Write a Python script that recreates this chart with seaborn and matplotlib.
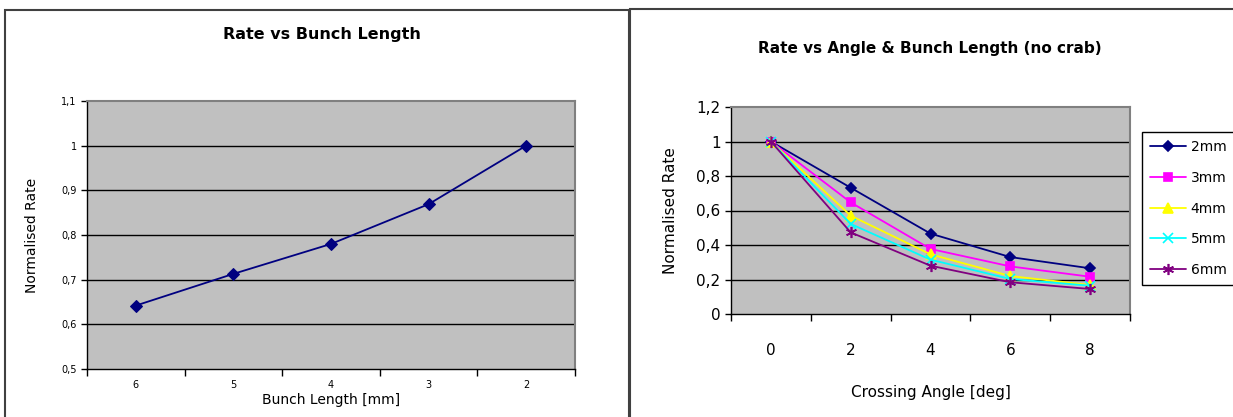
import matplotlib
matplotlib.use("Agg")
import matplotlib.pyplot as plt
import matplotlib.patches as mpatches
import seaborn as sns
import numpy as np

# ---- data ----
left_categories = ["6", "5", "4", "3", "2"]
left_values = [0.642, 0.713, 0.780, 0.869, 1.000]

right_categories = ["0", "2", "4", "6", "8"]
series_names = ["2mm", "3mm", "4mm", "5mm", "6mm"]
rate_2mm = [1.0, 0.732, 0.466, 0.330, 0.265]
rate_3mm = [1.0, 0.647, 0.377, 0.276, 0.216]
rate_4mm = [1.0, 0.570, 0.346, 0.220, 0.168]
rate_5mm = [1.0, 0.522, 0.315, 0.203, 0.164]
rate_6mm = [1.0, 0.473, 0.280, 0.184, 0.145]
right_series = [rate_2mm, rate_3mm, rate_4mm, rate_5mm, rate_6mm]

left_yticks = [0.5, 0.6, 0.7, 0.8, 0.9, 1.0, 1.1]
right_yticks = [0.0, 0.2, 0.4, 0.6, 0.8, 1.0, 1.2]

colors = ["#000080", "#FF00FF", "#FFFF00", "#00FFFF", "#800080"]
markers = ["D", "s", "^", "x", (6, 2, 0)]
msizes = [5.5, 6, 7, 7, 8]

sns.set_theme(style="white")
plt.rcParams["font.family"] = ["DejaVu Sans"]
plt.rcParams["text.color"] = "black"
plt.rcParams["axes.labelcolor"] = "black"
plt.rcParams["xtick.color"] = "black"
plt.rcParams["ytick.color"] = "black"

W, H = 1233, 417
fig = plt.figure(figsize=(W / 100, H / 100), dpi=100)

def fx(px):
    return px / W

def fy(py):
    return 1 - py / H

# panel borders
fig.patches.append(mpatches.Rectangle((fx(5), fy(430)), fx(624), fy(10) - fy(430),
                                      transform=fig.transFigure, fill=False,
                                      edgecolor="#404040", linewidth=1.5))
fig.patches.append(mpatches.Rectangle((fx(630), fy(430)), fx(700), fy(9) - fy(430),
                                      transform=fig.transFigure, fill=False,
                                      edgecolor="#404040", linewidth=1.5))

def fmt(v):
    s = ("%.1f" % v).rstrip("0").rstrip(".")
    return s.replace(".", ",")

def style_axes(ax, yticks, ncat, ytick_fs):
    ax.set_facecolor("#C0C0C0")
    ax.set_ylim(yticks[0], yticks[-1])
    ax.set_yticks(yticks)
    ax.set_yticklabels([fmt(v) for v in yticks], fontsize=ytick_fs)
    for v in yticks[1:-1]:
        ax.axhline(v, color="black", linewidth=1.0, zorder=1)
    ax.set_xlim(-0.5, ncat - 0.5)
    ax.set_xticks(np.arange(-0.5, ncat, 1.0), minor=True)
    ax.tick_params(axis="x", which="major", length=0)
    ax.tick_params(axis="x", which="minor", length=5, width=1, color="black", direction="out",
                   bottom=True)
    ax.tick_params(axis="y", which="major", length=4, width=1, color="black", direction="out",
                   left=True)
    for side in ["top", "right"]:
        ax.spines[side].set_color("#808080")
        ax.spines[side].set_linewidth(1.5)
    for side in ["left", "bottom"]:
        ax.spines[side].set_color("black")
        ax.spines[side].set_linewidth(1.0)
    ax.grid(False)

# ---- left chart ----
ax1 = fig.add_axes([fx(87), fy(369), fx(575) - fx(87), fy(101) - fy(369)])
sns.lineplot(x=np.arange(len(left_categories)), y=left_values, ax=ax1,
             color="#000080", marker="D", markersize=6, markeredgecolor="#000080",
             linewidth=1.3, zorder=3)
style_axes(ax1, left_yticks, len(left_categories), 7)
ax1.set_xticks(np.arange(len(left_categories)))
ax1.set_xticklabels(left_categories, fontsize=7)
ax1.tick_params(axis="x", which="major", pad=8)
ax1.set_xlabel("Bunch Length [mm]", fontsize=10, labelpad=2)
ax1.set_ylabel("Normalised Rate", fontsize=10, labelpad=16)
fig.text(fx(322), fy(35), "Rate vs Bunch Length", ha="center", va="center",
         fontsize=11.5, fontweight="bold")

# ---- right chart ----
ax2 = fig.add_axes([fx(731), fy(314), fx(1130) - fx(731), fy(107) - fy(314)])
xpos = np.arange(len(right_categories))
for name, vals, c, m, ms in zip(series_names, right_series, colors, markers, msizes):
    sns.lineplot(x=xpos, y=vals, ax=ax2, color=c, marker=m, markersize=ms,
                 markeredgecolor=c, markeredgewidth=1.2, linewidth=1.3,
                 label=name, zorder=3)
style_axes(ax2, right_yticks, len(right_categories), 11)
ax2.set_xticks(xpos)
ax2.set_xticklabels(right_categories, fontsize=11)
ax2.tick_params(axis="x", which="major", pad=21)
ax2.set_xlabel("Crossing Angle [deg]", fontsize=11, labelpad=19)
ax2.set_ylabel("Normalised Rate", fontsize=11, labelpad=13)
fig.text(fx(930), fy(48), "Rate vs Angle & Bunch Length (no crab)", ha="center",
         va="center", fontsize=11, fontweight="bold")

leg = ax2.legend(loc="upper left", bbox_to_anchor=(fx(1142), fy(132)),
                 bbox_transform=fig.transFigure, frameon=True, fancybox=False,
                 fontsize=10, handlelength=2.6, handletextpad=0.3,
                 borderpad=0.6, labelspacing=1.2, borderaxespad=0)
leg.get_frame().set_edgecolor("black")
leg.get_frame().set_linewidth(1.0)
leg.get_frame().set_facecolor("white")
leg.get_frame().set_alpha(1)

fig.savefig("out.png", dpi=100)
